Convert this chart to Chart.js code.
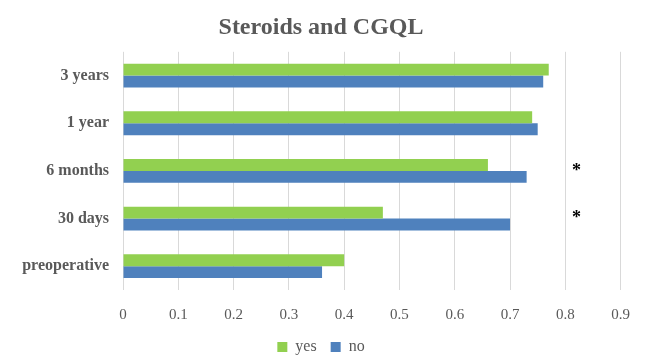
<!DOCTYPE html>
<html>
<head>
<meta charset="utf-8">
<script src="https://cdn.jsdelivr.net/npm/chart.js@4/dist/chart.umd.min.js"></script>
<style>
  html, body { margin: 0; padding: 0; background: #fff; }
  #wrap { width: 646px; height: 356px; }
</style>
</head>
<body>
<div id="wrap"><canvas id="chart" width="646" height="356"></canvas></div>
<script>
// categories, top to bottom
const periods = ["3 years", "1 year", "6 months", "30 days", "preoperative"]
const yesValues = [0.77, 0.74, 0.66, 0.47, 0.40]
const noValues = [0.76, 0.75, 0.73, 0.70, 0.36]
// significance markers
const starCategories = ["6 months", "30 days"]
const starValue = 0.82

const textGray = "#595959"
const serif = "'Liberation Serif', 'DejaVu Serif', serif"

// draws the "*" markers through the chart's own scales
const starPlugin = {
  id: "stars",
  afterDatasetsDraw(chart) {
    const ctx = chart.ctx
    const x = chart.scales.x.getPixelForValue(starValue)
    ctx.save()
    ctx.fillStyle = "#000"
    ctx.font = "bold 18px " + serif
    ctx.textAlign = "center"
    ctx.textBaseline = "middle"
    starCategories.forEach((c) => {
      const y = chart.scales.y.getPixelForValue(periods.indexOf(c))
      ctx.fillText("*", x, y)
    })
    ctx.restore()
  },
}

const ctx = document.getElementById("chart").getContext("2d")
new Chart(ctx, {
  type: "bar",
  data: {
    labels: periods,
    datasets: [
      { label: "yes", data: yesValues, backgroundColor: "#92D050" },
      { label: "no", data: noValues, backgroundColor: "#4F81BD" },
    ],
  },
  options: {
    indexAxis: "y",
    responsive: false,
    animation: false,
    barPercentage: 1,
    categoryPercentage: 0.5,
    // negative bottom pushes the legend's lower padding off the canvas
    layout: { padding: { left: 18, right: 22, top: 0, bottom: -9 } },
    plugins: {
      title: {
        display: true,
        text: "Steroids and CGQL",
        color: textGray,
        font: { family: serif, size: 24, weight: "bold" },
        padding: { top: 13, bottom: 10 },
      },
      legend: {
        position: "bottom",
        labels: {
          color: textGray,
          font: { family: serif, size: 16 },
          boxWidth: 10,
          boxHeight: 10,
          padding: 14,
        },
      },
      tooltip: { enabled: false },
    },
    scales: {
      x: {
        min: 0,
        max: 0.9,
        ticks: {
          stepSize: 0.1,
          color: textGray,
          font: { family: serif, size: 15 },
          padding: 16,
          callback: (v) => Math.round(v * 10) / 10,
        },
        grid: { color: "#d9d9d9", drawTicks: false },
        border: { display: false },
        afterFit(scale) { scale.height = 35 },
      },
      y: {
        ticks: {
          color: textGray,
          font: { family: serif, size: 16, weight: "bold" },
          padding: 14,
        },
        grid: { display: false, drawTicks: false },
        border: { display: false },
        afterFit(scale) { scale.width = 105 },
      },
    },
  },
  plugins: [starPlugin],
})
</script>
</body>
</html>
